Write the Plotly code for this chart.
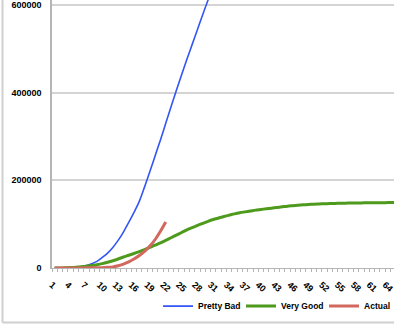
import plotly.graph_objects as go

categories = list(range(1, 67))

pretty_bad = [0, 100, 300, 700, 1500, 3000, 5500, 9500, 15000, 24000,
              34000, 47000, 63000, 82000, 104000, 127000, 152000, 185000, 220000, 256000,
              292000, 330000, 368000, 405000, 441000, 476000, 510000, 544000, 578000, 611000,
              642000, 672000, 700000]

very_good = [0, 200, 500, 1000, 1800, 2800, 4000, 5500, 7500, 10000,
             13000, 16500, 20500, 25000, 29000, 33000, 37500, 42000, 47000, 52000,
             57500, 63000, 69000, 75000, 81000, 87000, 92000, 97000, 102000, 106500,
             110500, 114000, 117500, 120500, 123500, 126000, 128000, 130000, 132000, 133500,
             135000, 136500, 138000, 139500, 141000, 142000, 143000, 144000, 144800, 145500,
             146000, 146500, 147000, 147300, 147600, 147900, 148100, 148300, 148500, 148700,
             148800, 148900, 149000, 149100, 149200, 149300]

actual = [0, 0, 100, 100, 200, 200, 300, 400, 500, 800,
          1500, 2500, 5000, 9000, 14000, 20500, 28500, 38000, 50000, 65000,
          84000, 105000]

tick_labels = list(range(1, 67, 3))

FONT = "Liberation Sans"

fig = go.Figure()
fig.add_trace(go.Scatter(x=categories[:len(pretty_bad)], y=pretty_bad, mode="lines",
                         name="Pretty Bad", line=dict(color="#3355F5", width=1.6, shape="spline")))
fig.add_trace(go.Scatter(x=categories[:len(very_good)], y=very_good, mode="lines",
                         name="Very Good", line=dict(color="#4E9A1C", width=3, shape="spline")))
fig.add_trace(go.Scatter(x=categories[:len(actual)], y=actual, mode="lines",
                         name="Actual", line=dict(color="#D2685E", width=3, shape="spline")))

fig.update_layout(
    width=394, height=328,
    margin=dict(l=52, r=0, t=0, b=60, autoexpand=False),
    paper_bgcolor="white", plot_bgcolor="white",
    font=dict(family=FONT, size=9, color="black", weight="bold"),
    showlegend=True,
    legend=dict(orientation="h", x=0.31, xanchor="left", y=-0.088, yanchor="top",
                font=dict(family=FONT, size=8.5, color="black", weight="bold"),
                itemwidth=30, entrywidth=38, entrywidthmode="pixels",
                tracegroupgap=0, bgcolor="rgba(0,0,0,0)"),
    xaxis=dict(range=[0.5, 65.15], tickmode="array", tickvals=tick_labels,
               ticktext=[str(v) for v in tick_labels], tickangle=42, automargin=False,
               ticklabeloverflow="allow", ticklabelstandoff=7, ticklabelshift=-3,
               showgrid=False, zeroline=False, showline=True, linecolor="#b5b5b5", linewidth=1,
               ticks="", tickfont=dict(family=FONT, size=9, color="black", weight="bold"),
               minor=dict(ticks="outside", tick0=0.5, dtick=1, ticklen=3, tickcolor="#b5b5b5", showgrid=False)),
    yaxis=dict(range=[0, 611200], tickvals=[0, 200000, 400000, 600000],
               ticktext=["0", "200000", "400000", "600000"], automargin=False,
               ticklabeloverflow="allow", ticklabelstandoff=7,
               showgrid=True, gridcolor="#d4d4d4", gridwidth=1.5, zeroline=False,
               showline=True, linecolor="#b5b5b5", linewidth=1.5, ticks="",
               tickfont=dict(family=FONT, size=9, color="black", weight="bold")),
)

# chart-area border (left and bottom edges visible in the crop)
fig.add_shape(type="line", xref="paper", yref="paper", x0=-49.5/342, x1=1.0, y0=-54.5/268, y1=-54.5/268,
              line=dict(color="#d0d0d0", width=2))
fig.add_shape(type="line", xref="paper", yref="paper", x0=-49.5/342, x1=-49.5/342, y0=-54.5/268, y1=1.0,
              line=dict(color="#d0d0d0", width=2))

fig.write_html("out.html")
